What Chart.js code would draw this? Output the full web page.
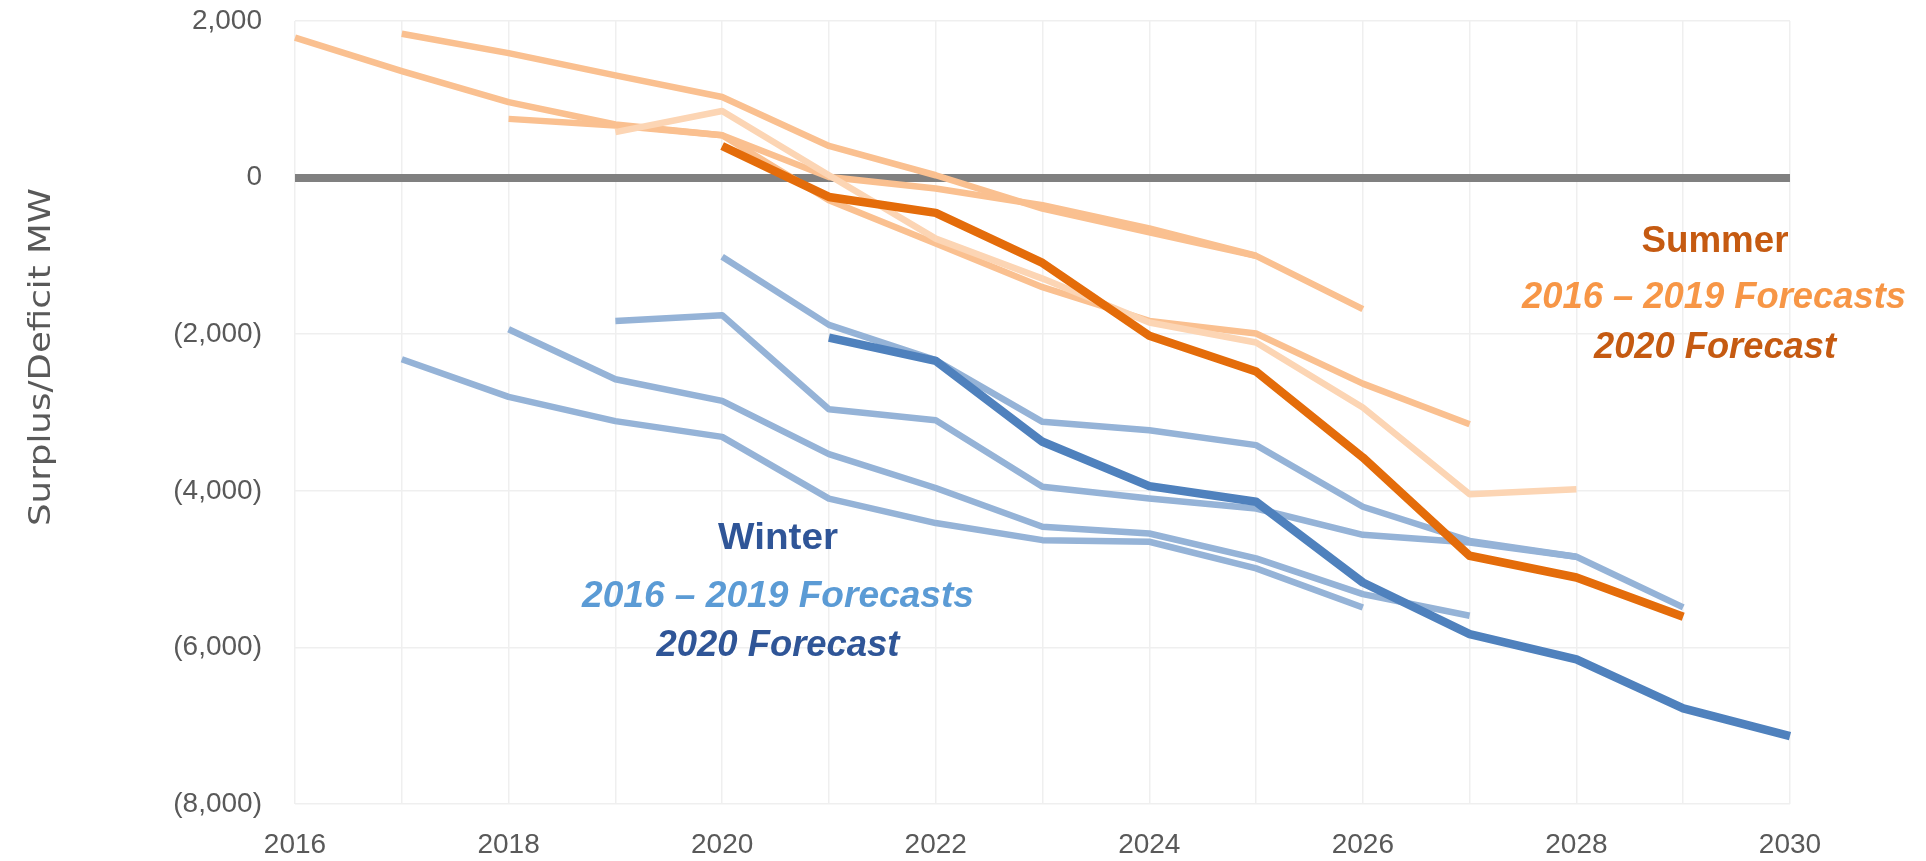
<!DOCTYPE html>
<html>
<head>
<meta charset="utf-8">
<script src="https://cdn.jsdelivr.net/npm/chart.js@4/dist/chart.umd.min.js"></script>
<style>
  body { margin: 0; background: #fff; }
  #wrap { width: 1926px; height: 861px; }
</style>
</head>
<body>
<div id="wrap"><canvas id="chart"></canvas></div>
<script>
const years = ["2016","2017","2018","2019","2020","2021","2022","2023","2024","2025","2026","2027","2028","2029","2030"];

// summer forecasts (MW)
const summer2016 = [1787, 1360, 964, 678, 541, 8, -140, -353, -650, -998, null, null, null, null, null];
const summer2017 = [null, 1838, 1590, 1305, 1030, 404, 30, -396, -700, -1000, -1680, null, null, null, null];
const summer2018 = [null, null, 750, 665, 541, -290, -843, -1400, -1830, -1991, -2631, -3149, null, null, null];
const summer2019 = [null, null, null, 580, 851, 30, -779, -1290, -1850, -2106, -2936, -4043, -3979, null, null];
const summer2020 = [null, null, null, null, 404, -247, -451, -1090, -2021, -2477, -3574, -4830, -5107, -5608, null];

// winter forecasts (MW)
const winter2016 = [null, -2320, -2801, -3110, -3311, -4100, -4412, -4630, -4651, -4991, -5490, null, null, null, null];
const winter2017 = [null, null, -1936, -2575, -2851, -3532, -3964, -4460, -4545, -4864, -5320, -5596, null, null, null];
const winter2018 = [null, null, null, -1830, -1757, -2958, -3098, -3949, -4098, -4226, -4562, -4660, -4843, null, null];
const winter2019 = [null, null, null, null, -1012, -1881, -2332, -3119, -3226, -3417, -4204, -4640, -4843, -5489, null];
const winter2020 = [null, null, null, null, null, -2043, -2341, -3374, -3940, -4140, -5171, -5830, -6153, -6779, -7132];

const yTicks = [2000, 0, -2000, -4000, -6000, -8000];

const lightOrange = "#FAC090";
const palestOrange = "#FCD5B4";
const darkOrange = "#E46C0A";
const lightBlue = "#95B3D7";
const darkBlue = "#4F81BD";

function line(data, color, width) {
    return {
        data: data,
        borderColor: color,
        backgroundColor: color,
        borderWidth: width,
        pointRadius: 0,
        fill: false,
        tension: 0,
        spanGaps: false,
        borderJoinStyle: "round"
    };
}

function fmt(v) {
    const s = Math.abs(v).toLocaleString("en-US");
    return v < 0 ? "(" + s + ")" : s;
}

// text labels + axis title
const notes = {
    id: "notes",
    afterDraw(chart) {
        const ctx = chart.ctx;
        const put = (text, x, y, w, font, color) => {
            ctx.save();
            ctx.font = font;
            ctx.fillStyle = color;
            ctx.textAlign = "center";
            ctx.textBaseline = "alphabetic";
            const m = ctx.measureText(text).width;
            ctx.translate(x, y);
            ctx.scale(w / m, 1);
            ctx.fillText(text, 0, 0);
            ctx.restore();
        };
        const bold = "bold 36px 'Liberation Sans', Arial, sans-serif";
        const boldIt = "italic bold 36px 'Liberation Sans', Arial, sans-serif";

        put("Summer", 1715, 252, 147, bold, "#C55A11");
        put("2016 \u2013 2019 Forecasts", 1714, 308, 384, boldIt, "#F79646");
        put("2020 Forecast", 1715, 358, 242, boldIt, "#C55A11");

        put("Winter", 778, 549, 120, bold, "#2F5597");
        put("2016 \u2013 2019 Forecasts", 778, 607, 392, boldIt, "#5B9BD5");
        put("2020 Forecast", 778, 656, 243, boldIt, "#2F5597");

        ctx.save();
        ctx.font = "30px 'DejaVu Sans', sans-serif";
        ctx.fillStyle = "#595959";
        ctx.textAlign = "center";
        ctx.textBaseline = "middle";
        ctx.translate(42, 357);
        ctx.rotate(-Math.PI / 2);
        const tw = ctx.measureText("Surplus/Deficit MW").width;
        ctx.scale(338 / tw, 1);
        ctx.fillText("Surplus/Deficit MW", 0, 0);
        ctx.restore();
    }
};

new Chart(document.getElementById("chart"), {
    type: "line",
    data: {
        labels: years,
        datasets: [
            line(winter2020, darkBlue, 8.5),
            line(summer2020, darkOrange, 8.5),
            line(summer2019, palestOrange, 6.5),
            line(summer2018, lightOrange, 6.5),
            line(summer2017, lightOrange, 6.5),
            line(summer2016, lightOrange, 6.5),
            line(winter2019, lightBlue, 6.5),
            line(winter2018, lightBlue, 6.5),
            line(winter2017, lightBlue, 6.5),
            line(winter2016, lightBlue, 6.5)
        ]
    },
    options: {
        responsive: true,
        maintainAspectRatio: false,
        animation: false,
        layout: { padding: { left: 0, right: 136, top: 21, bottom: 0 } },
        plugins: {
            legend: { display: false },
            tooltip: { enabled: false }
        },
        scales: {
            x: {
                type: "category",
                offset: false,
                border: { display: false },
                grid: { color: "#EFEFEF", lineWidth: 1.5, drawTicks: false },
                ticks: {
                    autoSkip: false,
                    maxRotation: 0,
                    padding: 24,
                    color: "#595959",
                    font: { family: "'Liberation Sans', Arial, sans-serif", size: 28 },
                    callback: function (v, i) { return i % 2 === 0 ? years[i] : ""; }
                },
                afterFit: (s) => { s.height = 57; }
            },
            y: {
                min: -8000,
                max: 2000,
                border: { display: false },
                afterBuildTicks: (s) => { s.ticks = yTicks.map(v => ({ value: v })); },
                grid: {
                    drawTicks: false,
                    color: (c) => c.tick && c.tick.value === 0 ? "#808080" : "#EFEFEF",
                    lineWidth: (c) => c.tick && c.tick.value === 0 ? 8 : 1.5
                },
                ticks: {
                    padding: 33,
                    color: "#595959",
                    font: { family: "'Liberation Sans', Arial, sans-serif", size: 28 },
                    callback: (v) => fmt(v)
                },
                afterFit: (s) => {
                    s.width = 295;
                    s.paddingTop = 0;
                    s.paddingBottom = 0;
                }
            }
        }
    },
    plugins: [notes]
});
</script>
</body>
</html>
